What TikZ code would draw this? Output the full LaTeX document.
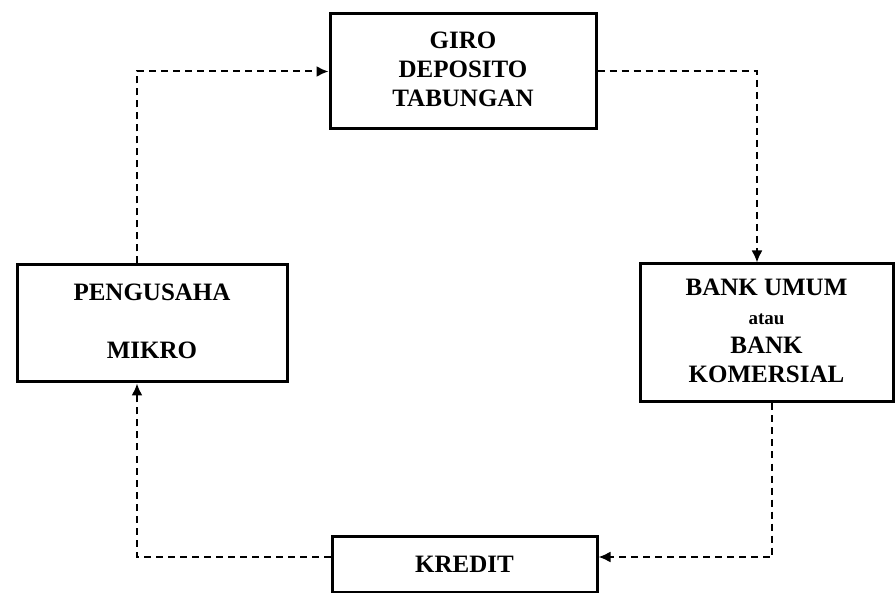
\documentclass[tikz,border=0pt]{standalone}
\usepackage{fontspec}
\setmainfont{Liberation Serif}
\usetikzlibrary{shapes,arrows,arrows.meta,positioning}
\tikzstyle{block} = [draw, line width=1.5pt, fill=white, rectangle,
font=\bfseries\fontsize{12.5}{14.5}\selectfont]
\tikzstyle{flow} = [->, line width=1pt, dash pattern=on 3.5pt off 2.5pt]
\begin{document}
\begin{tikzpicture}[auto, >={Latex[length=6pt,width=5.5pt]}, x=0.5pt, y=-0.5pt]
		\useasboundingbox (0,0) rectangle (895,593);
		\node(giro)[block, minimum width=133pt, minimum height=57.5pt] at (463,71.5){\begin{tabular}{c}GIRO\\DEPOSITO\\TABUNGAN\end{tabular}};
		\node(pengusaha)[block, minimum width=135pt, minimum height=58.5pt] at (152,323.5){\begin{tabular}{c}PENGUSAHA\\ \\MIKRO\end{tabular}};
		\node(bank)[block, minimum width=126.5pt, minimum height=69pt] at (766.5,333){\begin{tabular}{c}BANK UMUM\\{\fontsize{9.5}{13}\selectfont atau}\\BANK\\KOMERSIAL\end{tabular}};
		\node(kredit)[block, minimum width=132.5pt, minimum height=28pt] at (464.5,564){KREDIT};
		
		\draw[flow] ([xshift=-7.5pt]pengusaha.north) |- (giro.west);
		\draw[flow] (giro.east) -| ([xshift=-4.75pt]bank.north);
		\draw[flow] ([xshift=2.75pt]bank.south) |- ([yshift=3.5pt]kredit.east);
		\draw[flow] ([yshift=3.5pt]kredit.west) -| ([xshift=-7.5pt]pengusaha.south);
		\end{tikzpicture}
\end{document}
